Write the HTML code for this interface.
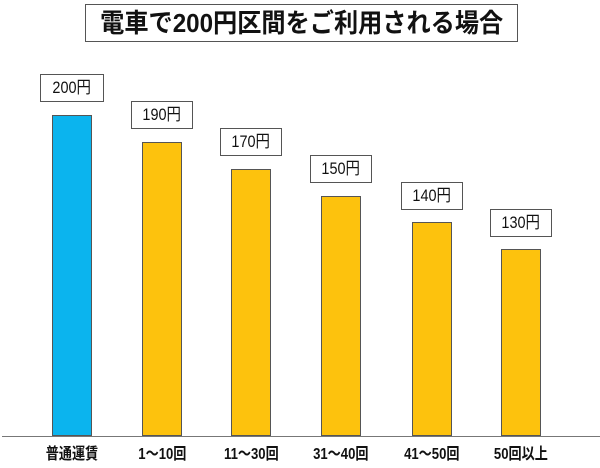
<!DOCTYPE html>
<html><head><meta charset="utf-8"><style>
body{margin:0;width:600px;height:468px;background:#fff;position:relative;overflow:hidden;font-family:"Liberation Sans","Noto Sans CJK JP",sans-serif;}
.t{position:absolute;left:85px;top:4px;width:431px;height:36px;border:1px solid #555;text-align:center;font-size:26px;line-height:36px;color:#111;white-space:nowrap;overflow:hidden;font-weight:bold;}
.t span{display:inline-block;transform:scaleX(0.93);transform-origin:center;margin:0 -60px;}
.bar{position:absolute;width:40px;border:1px solid #555;box-sizing:border-box;bottom:32px;background:#fdc20d;}
.lb{position:absolute;width:62px;height:28px;border:1px solid #555;box-sizing:border-box;text-align:center;font-size:17px;line-height:26px;color:#111;white-space:nowrap;}
.lb span{display:inline-block;transform:scaleX(0.85);}
.ax{position:absolute;left:2px;width:598px;top:436px;height:1px;background:#777;}
.x{position:absolute;top:440px;width:100px;text-align:center;font-size:16px;color:#111;white-space:nowrap;font-weight:bold;}
.x span{display:inline-block;transform:scaleX(0.82);}
</style></head><body>
<div class="t"><span>電車で200円区間をご利用される場合</span></div>
<div class="bar" style="left:52px;top:115px;background:#0bb4ee"></div>
<div class="bar" style="left:142px;top:142px"></div>
<div class="bar" style="left:231px;top:169px"></div>
<div class="bar" style="left:321px;top:196px"></div>
<div class="bar" style="left:412px;top:222px"></div>
<div class="bar" style="left:501px;top:249px"></div>
<div class="lb" style="left:40px;top:74px;width:64px"><span>200円</span></div>
<div class="lb" style="left:131px;top:101px"><span>190円</span></div>
<div class="lb" style="left:220px;top:128px"><span>170円</span></div>
<div class="lb" style="left:310px;top:155px"><span>150円</span></div>
<div class="lb" style="left:401px;top:182px"><span>140円</span></div>
<div class="lb" style="left:490px;top:209px"><span>130円</span></div>
<div class="ax"></div>
<div class="x" style="left:22px"><span>普通運賃</span></div>
<div class="x" style="left:112px"><span>1～10回</span></div>
<div class="x" style="left:201px"><span>11～30回</span></div>
<div class="x" style="left:291px"><span>31～40回</span></div>
<div class="x" style="left:382px"><span>41～50回</span></div>
<div class="x" style="left:471px"><span>50回以上</span></div>
</body></html>
